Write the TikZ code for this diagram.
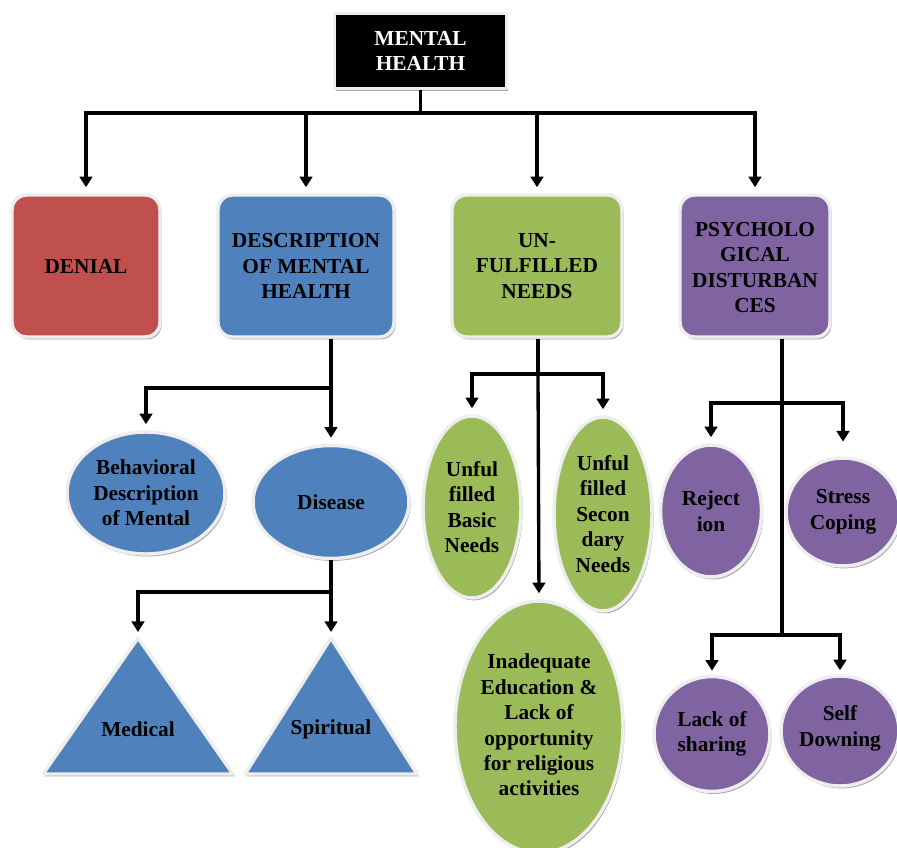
\documentclass[tikz,border=0pt]{standalone}
\usepackage{fontspec}
\setmainfont{Liberation Serif}
\usetikzlibrary{arrows.meta,shapes.geometric,shadows}
\definecolor{cred}{HTML}{C0504D}
\definecolor{cblue}{HTML}{4F81BD}
\definecolor{cgreen}{HTML}{9BBB59}
\definecolor{cpurple}{HTML}{8064A2}
\definecolor{ring}{HTML}{EEEEEE}
\tikzset{
  shp/.style={draw=ring, line width=2.6pt, line join=round,
    drop shadow={shadow xshift=1.2pt, shadow yshift=-1.8pt, fill=black, opacity=.35}},
  boxA/.style={shp, rectangle, rounded corners=11pt, inner sep=0pt},
  ell/.style={shp, ellipse, inner sep=0pt},
  txt/.style={font=\bfseries\fontsize{16}{19.1}\selectfont, align=center, inner sep=0pt},
  ln/.style={line width=2.5pt, line join=miter},
  arr/.style={ln, -{Triangle[width=9.5pt,length=8pt]}, shorten >=4.5pt},
}
\begin{document}
\begin{tikzpicture}[x=0.75pt,y=-0.75pt]
\useasboundingbox (0,0) rectangle (897,848);

% top
\node[shp, rectangle, fill=black, minimum width=129pt, minimum height=56.25pt, inner sep=0pt] (mh) at (420.5,51) {};
\node[txt, text=white] (mht) at (mh) {MENTAL\\HEALTH};

% level 1
\node[boxA, fill=cred, minimum width=111pt, minimum height=106.5pt] (denial) at (86,266) {};
\node[txt] (denialt) at (denial) {DENIAL};
\node[boxA, fill=cblue, minimum width=132pt, minimum height=106.5pt] (desc) at (306,266) {};
\node[txt] (desct) at (desc) {DESCRIPTION\\OF MENTAL\\HEALTH};
\node[boxA, fill=cgreen, minimum width=127.5pt, minimum height=106.5pt] (un) at (537,266) {};
\node[txt] (unt) at (un) {UN-\\FULFILLED\\NEEDS};
\node[boxA, fill=cpurple, minimum width=112.5pt, minimum height=106.5pt] (psy) at (755,266) {};
\node[txt] (psyt) at ([yshift=-1pt]psy.center) {PSYCHOLO\\GICAL\\DISTURBAN\\CES};

% description branch
\node[ell, fill=cblue, minimum width=118.5pt, minimum height=91.5pt] (beh) at (146,493) {};
\node[txt] (beht) at (beh) {Behavioral\\Description\\of Mental};
\node[ell, fill=cblue, minimum width=117pt, minimum height=84.75pt] (disease) at (331,502) {};
\node[txt] (diseaset) at (disease) {Disease};

% triangles
\coordinate (medtop) at (138,638);
\coordinate (spitop) at (331,638);
\draw[shp, fill=cblue] (medtop) -- (233,774) -- (43,774) -- cycle;
\draw[shp, fill=cblue] (spitop) -- (417,774) -- (245,774) -- cycle;
\node[txt] (med) at (138,729) {Medical};
\node[txt] (spi) at (331,729) {Spiritual};

% green branch
\node[ell, fill=cgreen, minimum width=73.5pt, minimum height=136.5pt] (basic) at (472,507) {};
\node[txt] (basict) at (basic) {Unful\\filled\\Basic\\Needs};
\node[ell, fill=cgreen, minimum width=73.5pt, minimum height=145.5pt] (second) at (603,514) {};
\node[txt] (secondt) at (second) {Unful\\filled\\Secon\\dary\\Needs};
\node[ell, fill=cgreen, minimum width=126pt, minimum height=189pt] (inad) at (539,727) {};
\node[txt] (inadt) at (539,725) {Inadequate\\Education \&\\Lack of\\opportunity\\for religious\\activities};

% purple branch
\node[ell, fill=cpurple, minimum width=75.75pt, minimum height=99pt] (rej) at (711,511) {};
\node[txt] (rejt) at (rej) {Reject\\ion};
\node[ell, fill=cpurple, minimum width=85.5pt, minimum height=81pt] (stress) at (843,512) {};
\node[txt] (stresst) at (stress) {Stress\\Coping};
\node[ell, fill=cpurple, minimum width=87pt, minimum height=86.25pt] (lack) at (712,734) {};
\node[txt] (lackt) at (lack) {Lack of\\sharing};
\node[ell, fill=cpurple, minimum width=88.5pt, minimum height=82.5pt] (self) at (840,731) {};
\node[txt] (selft) at ([yshift=2pt]self.center) {Self\\Downing};

% connectors
\coordinate (tb) at (420.5,113);
\draw[ln] (mh.south) -- (tb);
\draw[arr] (tb) -| (denial.north);
\draw[arr] (tb) -| (desc.north);
\draw[arr] (tb) -| (un.north);
\draw[arr] (tb) -| (psy.north);

\coordinate (d1) at (331,388);
\draw[ln] (desc.south -| d1) -- (d1);
\draw[arr] (d1) -| (beh.north);
\draw[arr] (d1) -- (disease.north);

\coordinate (d2) at (331,592);
\draw[ln] (disease.south) -- (d2);
\draw[arr] (d2) -| (medtop);
\draw[arr] (d2) -- (spitop);

\coordinate (g1) at (538,374);
\draw[ln] (un.south -| g1) -- (g1);
\draw[arr] (g1) -| (basic.north);
\draw[arr] (g1) -| (second.north);
\draw[arr] (g1) -- (inad.north);

\coordinate (p1) at (782,403);
\coordinate (p2) at (782,635);
\draw[ln] (psy.south -| p1) -- (p2);
\draw[arr] (p1) -| (rej.north);
\draw[arr, shorten >=11pt] (p1) -| (stress.north);
\draw[arr, shorten >=3pt] (p2) -| (lack.north);
\draw[arr, shorten >=3pt] (p2) -| (self.north);
\end{tikzpicture}
\end{document}
